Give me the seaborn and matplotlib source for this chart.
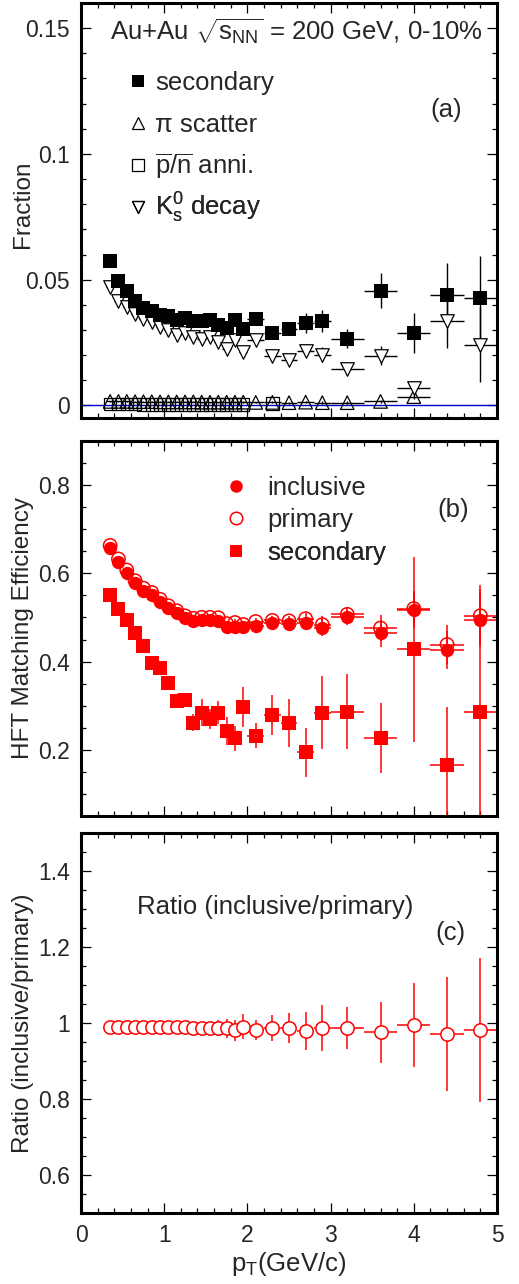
import numpy as np
import pandas as pd
import matplotlib
matplotlib.use('Agg')
import matplotlib.pyplot as plt
from matplotlib.lines import Line2D
from matplotlib.ticker import MultipleLocator
import seaborn as sns

# pT bins (GeV/c) and half widths
pt = [0.35, 0.45, 0.55, 0.65, 0.75, 0.85, 0.95, 1.05, 1.15, 1.25, 1.35, 1.45, 1.55, 1.65,
      1.75, 1.85, 1.95, 2.1, 2.3, 2.5, 2.7, 2.9, 3.2, 3.6, 4.0, 4.4, 4.8]
pt_err = [0.05, 0.05, 0.05, 0.05, 0.05, 0.05, 0.05, 0.05, 0.05, 0.05, 0.05, 0.05, 0.05, 0.05,
          0.05, 0.05, 0.05, 0.1, 0.1, 0.1, 0.1, 0.1, 0.2, 0.2, 0.2, 0.2, 0.2]

# (a) fractions
frac_sec = [0.0575, 0.0493, 0.0454, 0.0414, 0.0388, 0.0374, 0.0361, 0.0354, 0.0341, 0.0348, 0.0335,
            0.0335, 0.0341, 0.0321, 0.0308, 0.0341, 0.0304, 0.0345, 0.0288, 0.0302, 0.0328, 0.0335,
            0.0266, 0.0456, 0.0288, 0.0440, 0.0427]
frac_sec_err = [0.0006, 0.0005, 0.0005, 0.0005, 0.0005, 0.0005, 0.0005, 0.0006, 0.0006, 0.0006, 0.0007,
                0.0007, 0.0008, 0.0008, 0.0009, 0.0010, 0.0011, 0.0014, 0.0018, 0.0022, 0.0040, 0.0045,
                0.0036, 0.0069, 0.0078, 0.0128, 0.0166]
frac_pi = [0.0016, 0.0016, 0.0016, 0.0015, 0.0015, 0.0015, 0.0014, 0.0014, 0.0014, 0.0014, 0.0014,
           0.0013, 0.0013, 0.0013, 0.0013, 0.0013, 0.0013, 0.0012, 0.0012, 0.0011, 0.0013, 0.0011,
           0.0011, 0.0016, 0.0035, np.nan, np.nan]
frac_pi_err = [0.0002, 0.0002, 0.0002, 0.0002, 0.0002, 0.0002, 0.0002, 0.0002, 0.0002, 0.0002, 0.0002,
               0.0002, 0.0002, 0.0002, 0.0002, 0.0003, 0.0003, 0.0003, 0.0004, 0.0004, 0.0005, 0.0005,
               0.0005, 0.0007, 0.0010, np.nan, np.nan]
frac_anni = [0.0005, 0.0005, 0.0005, 0.0005, 0.0004, 0.0004, 0.0004, 0.0004, 0.0004, 0.0004, 0.0004,
             0.0004, 0.0004, 0.0004, 0.0004, 0.0004, 0.0004, np.nan, 0.0007, np.nan, np.nan, np.nan,
             np.nan, np.nan, np.nan, np.nan, np.nan]
frac_k0s = [0.0470, 0.0417, 0.0390, 0.0365, 0.0345, 0.0332, 0.0312, 0.0299, 0.0282, 0.0288, 0.0272,
            0.0265, 0.0272, 0.0251, 0.0225, 0.0262, 0.0212, 0.0262, 0.0198, 0.0180, 0.0218, 0.0202,
            0.0146, 0.0198, 0.0068, 0.0335, 0.0242]
frac_k0s_err = [0.0005, 0.0005, 0.0005, 0.0005, 0.0005, 0.0005, 0.0005, 0.0005, 0.0005, 0.0006, 0.0006,
                0.0006, 0.0007, 0.0007, 0.0008, 0.0009, 0.0010, 0.0012, 0.0015, 0.0018, 0.0025, 0.0030,
                0.0020, 0.0037, 0.0012, 0.0107, 0.0150]

# (b) HFT matching efficiency
eff_incl = [0.6566, 0.6263, 0.6014, 0.5774, 0.5607, 0.5509, 0.5358, 0.5208, 0.5095, 0.4982, 0.4921,
            0.4943, 0.4943, 0.4928, 0.4792, 0.4792, 0.4792, 0.4815, 0.4868, 0.4853, 0.4868, 0.4769,
            0.5004, 0.4642, 0.5170, 0.4264, 0.4943]
eff_incl_err = [0.002, 0.002, 0.002, 0.002, 0.002, 0.002, 0.002, 0.003, 0.003, 0.003, 0.004,
                0.004, 0.005, 0.005, 0.006, 0.007, 0.008, 0.008, 0.009, 0.010, 0.012, 0.020,
                0.017, 0.031, 0.040, 0.044, 0.060]
eff_prim = [0.6632, 0.6326, 0.6075, 0.5832, 0.5664, 0.5565, 0.5412, 0.5266, 0.5152, 0.5037, 0.4981,
            0.5003, 0.5003, 0.4993, 0.4860, 0.4885, 0.4840, 0.4908, 0.4932, 0.4922, 0.4973, 0.4837,
            0.5070, 0.4761, 0.5201, 0.4387, 0.5039]
eff_prim_err = [0.002, 0.002, 0.002, 0.002, 0.002, 0.002, 0.002, 0.003, 0.003, 0.003, 0.004,
                0.004, 0.005, 0.005, 0.006, 0.007, 0.008, 0.008, 0.009, 0.010, 0.012, 0.020,
                0.017, 0.030, 0.040, 0.044, 0.060]
eff_sec = [0.5509, 0.5185, 0.4943, 0.4642, 0.4355, 0.3977, 0.3849, 0.3524, 0.3109, 0.3132, 0.2619,
           0.2845, 0.2694, 0.2845, 0.2430, 0.2264, 0.2966, 0.2317, 0.2785, 0.2604, 0.1940, 0.2845,
           0.2867, 0.2264, 0.4280, 0.1660, 0.2867]
eff_sec_err = [0.004, 0.005, 0.006, 0.007, 0.008, 0.009, 0.010, 0.011, 0.013, 0.015, 0.019,
               0.030, 0.023, 0.027, 0.032, 0.028, 0.046, 0.028, 0.046, 0.054, 0.055, 0.083,
               0.085, 0.079, 0.210, 0.130, 0.287]

# (c) ratio inclusive/primary
ratio = [0.990, 0.990, 0.990, 0.990, 0.990, 0.990, 0.990, 0.989, 0.989, 0.989, 0.988,
         0.988, 0.988, 0.987, 0.986, 0.981, 0.990, 0.981, 0.987, 0.986, 0.979, 0.986,
         0.987, 0.975, 0.994, 0.972, 0.981]
ratio_err = [0.002, 0.002, 0.002, 0.002, 0.002, 0.002, 0.003, 0.003, 0.004, 0.005, 0.007,
             0.009, 0.015, 0.022, 0.025, 0.028, 0.033, 0.026, 0.034, 0.039, 0.050, 0.061,
             0.055, 0.079, 0.110, 0.150, 0.190]

df = pd.DataFrame({'pt': pt, 'pt_err': pt_err,
                   'frac_sec': frac_sec, 'frac_pi': frac_pi, 'frac_anni': frac_anni, 'frac_k0s': frac_k0s,
                   'eff_incl': eff_incl, 'eff_prim': eff_prim, 'eff_sec': eff_sec, 'ratio': ratio})

sns.set_theme(style='ticks')
plt.rcParams['font.family'] = ['Liberation Sans', 'DejaVu Sans']
plt.rcParams['mathtext.fontset'] = 'custom'
plt.rcParams['mathtext.rm'] = 'Liberation Sans'
plt.rcParams['mathtext.it'] = 'Liberation Sans:italic'
plt.rcParams['mathtext.bf'] = 'Liberation Sans:bold'

RED = '#ff0000'
TXT = 18.5
TICK = 16.5
LAB = 17.5

fig = plt.figure(figsize=(5.19, 12.84), dpi=100)
ax_a = fig.add_axes([0.1561, 0.67445, 0.8015, 0.3232])
ax_b = fig.add_axes([0.1561, 0.36449, 0.8015, 0.29206])
ax_c = fig.add_axes([0.1561, 0.05530, 0.8015, 0.29595])


def style_axis(ax, ylim, ymaj, ymin):
    ax.set_xlim(0, 5)
    ax.set_ylim(*ylim)
    ax.xaxis.set_major_locator(MultipleLocator(1))
    ax.xaxis.set_minor_locator(MultipleLocator(0.2))
    ax.yaxis.set_major_locator(MultipleLocator(ymaj))
    ax.yaxis.set_minor_locator(MultipleLocator(ymin))
    ax.tick_params(which='both', direction='in', top=True, right=True, color='black',
                   labelsize=TICK, pad=8)
    ax.tick_params(which='major', length=7.2, width=0.9)
    ax.tick_params(which='minor', length=3.6, width=0.9)
    for s in ax.spines.values():
        s.set_linewidth(2.2)
        s.set_color('black')
    ax.set_xlabel('')
    ax.yaxis.set_label_coords(-0.113, 0.5)


def legend_row(ax, handle, label, x, y, hl, pad):
    leg = ax.legend([handle], [label], loc='center left', bbox_to_anchor=(x, y),
                    bbox_transform=ax.transAxes, frameon=False, borderpad=0, borderaxespad=0,
                    handlelength=hl, handletextpad=pad, fontsize=TXT, numpoints=1)
    ax.add_artist(leg)


# ---------------- (a) ----------------
ax = ax_a
ax.axhline(0, color='#0000cc', lw=1, zorder=1)
ax.errorbar(pt, frac_k0s, xerr=pt_err, yerr=frac_k0s_err, fmt='none', ecolor='black', elinewidth=1, zorder=2)
ax.errorbar(pt, frac_pi, xerr=pt_err, yerr=frac_pi_err, fmt='none', ecolor='black', elinewidth=1, zorder=2)
ax.errorbar(pt, frac_sec, xerr=pt_err, yerr=frac_sec_err, fmt='none', ecolor='black', elinewidth=1, zorder=2)
sns.scatterplot(data=df, x='pt', y='frac_anni', marker='s', s=80, color='black', facecolor='none',
                edgecolor='black', linewidth=0.9, ax=ax, zorder=3, legend=False)
sns.scatterplot(data=df, x='pt', y='frac_pi', marker='^', s=95, color='black', facecolor='none',
                edgecolor='black', linewidth=0.9, ax=ax, zorder=3, legend=False)
sns.scatterplot(data=df, x='pt', y='frac_k0s', marker='v', s=95, color='black', facecolor='white',
                edgecolor='black', linewidth=0.9, ax=ax, zorder=4, legend=False)
sns.scatterplot(data=df, x='pt', y='frac_sec', marker='s', s=92, color='black',
                edgecolor='black', linewidth=0, ax=ax, zorder=5, legend=False)
style_axis(ax, (-0.005, 0.16), 0.05, 0.01)
ax.set_yticks([0, 0.05, 0.1, 0.15])
ax.set_yticklabels(['0', '0.05', '0.1', '0.15'])
ax.tick_params(labelbottom=False)
ax.set_ylabel('Fraction', fontsize=LAB)
ax.yaxis.set_label_coords(-0.113, 0.515)
ax.text(0.07, 0.93, r'Au+Au $\sqrt{\mathregular{s}_{\mathregular{NN}}}$ = 200 GeV, 0-10%',
        transform=ax.transAxes, fontsize=TXT, ha='left', va='center')
ax.text(0.839, 0.742, '(a)', transform=ax.transAxes, fontsize=TXT, ha='left', va='center')
hx = 0.1185
legend_row(ax, Line2D([], [], ls='none', marker='s', color='black', ms=8.5, mew=0), 'secondary',
           hx, 0.807, 0.6, 0.36)
legend_row(ax, Line2D([], [], ls='none', marker='^', color='black', mfc='none', ms=8.5, mew=0.9),
           'π scatter', hx, 0.706, 0.6, 0.36)
legend_row(ax, Line2D([], [], ls='none', marker='s', color='black', mfc='none', ms=8.5, mew=0.9),
           r'$\overline{\mathregular{p}}/\overline{\mathregular{n}}$ anni.', hx, 0.607, 0.6, 0.36)
legend_row(ax, Line2D([], [], ls='none', marker='v', color='black', mfc='none', ms=8.5, mew=0.9),
           r'K$_{\mathregular{s}}^{0}$ decay', hx, 0.506, 0.6, 0.36)

# ---------------- (b) ----------------
ax = ax_b
ax.errorbar(pt, eff_sec, xerr=pt_err, yerr=eff_sec_err, fmt='none', ecolor=RED, elinewidth=1.1, zorder=2)
ax.errorbar(pt, eff_incl, xerr=pt_err, yerr=eff_incl_err, fmt='none', ecolor=RED, elinewidth=1.1, zorder=2)
ax.errorbar(pt, eff_prim, xerr=pt_err, yerr=eff_prim_err, fmt='none', ecolor=RED, elinewidth=1.1, zorder=2)
sns.scatterplot(data=df, x='pt', y='eff_sec', marker='s', s=92, color=RED, edgecolor=RED,
                linewidth=0, ax=ax, zorder=3, legend=False)
sns.scatterplot(data=df, x='pt', y='eff_incl', marker='o', s=92, color=RED, edgecolor=RED,
                linewidth=0, ax=ax, zorder=3, legend=False)
sns.scatterplot(data=df, x='pt', y='eff_prim', marker='o', s=92, color=RED, facecolor='none',
                edgecolor=RED, linewidth=1.1, ax=ax, zorder=4, legend=False)
style_axis(ax, (0.05, 0.9), 0.2, 0.05)
ax.tick_params(labelbottom=False)
ax.set_ylabel('HFT Matching Efficiency', fontsize=LAB)
ax.text(0.856, 0.816, '(b)', transform=ax.transAxes, fontsize=TXT, ha='left', va='center')
bx = 0.342
legend_row(ax, Line2D([], [], ls='none', marker='o', color=RED, ms=9, mew=0), 'inclusive',
           bx, 0.875, 1.0, 0.7)
legend_row(ax, Line2D([], [], ls='none', marker='o', color=RED, mfc='none', ms=9, mew=1.1), 'primary',
           bx, 0.789, 1.0, 0.7)
legend_row(ax, Line2D([], [], ls='none', marker='s', color=RED, ms=9, mew=0), 'secondary',
           bx, 0.701, 1.0, 0.7)

# ---------------- (c) ----------------
ax = ax_c
ax.errorbar(pt, ratio, xerr=pt_err, yerr=ratio_err, fmt='none', ecolor=RED, elinewidth=1.1, zorder=2)
sns.scatterplot(data=df, x='pt', y='ratio', marker='o', s=92, color=RED, facecolor='white',
                edgecolor=RED, linewidth=1.1, ax=ax, zorder=3, legend=False)
style_axis(ax, (0.5, 1.5), 0.2, 0.05)
ax.set_yticks([0.6, 0.8, 1.0, 1.2, 1.4])
ax.set_yticklabels(['0.6', '0.8', '1', '1.2', '1.4'])
ax.set_xticks([0, 1, 2, 3, 4, 5])
ax.set_xticklabels(['0', '1', '2', '3', '4', '5'])
ax.set_ylabel('Ratio (inclusive/primary)', fontsize=LAB)
ax.yaxis.set_label_coords(-0.113, 0.5)
ax.set_xlabel(r'$\mathregular{p_{T}}$(GeV/c)', fontsize=LAB + 1, labelpad=2)
ax.text(0.1346, 0.805, 'Ratio (inclusive/primary)', transform=ax.transAxes, fontsize=TXT,
        ha='left', va='center')
ax.text(0.851, 0.737, '(c)', transform=ax.transAxes, fontsize=TXT, ha='left', va='center')

fig.savefig('out.png', dpi=100)
